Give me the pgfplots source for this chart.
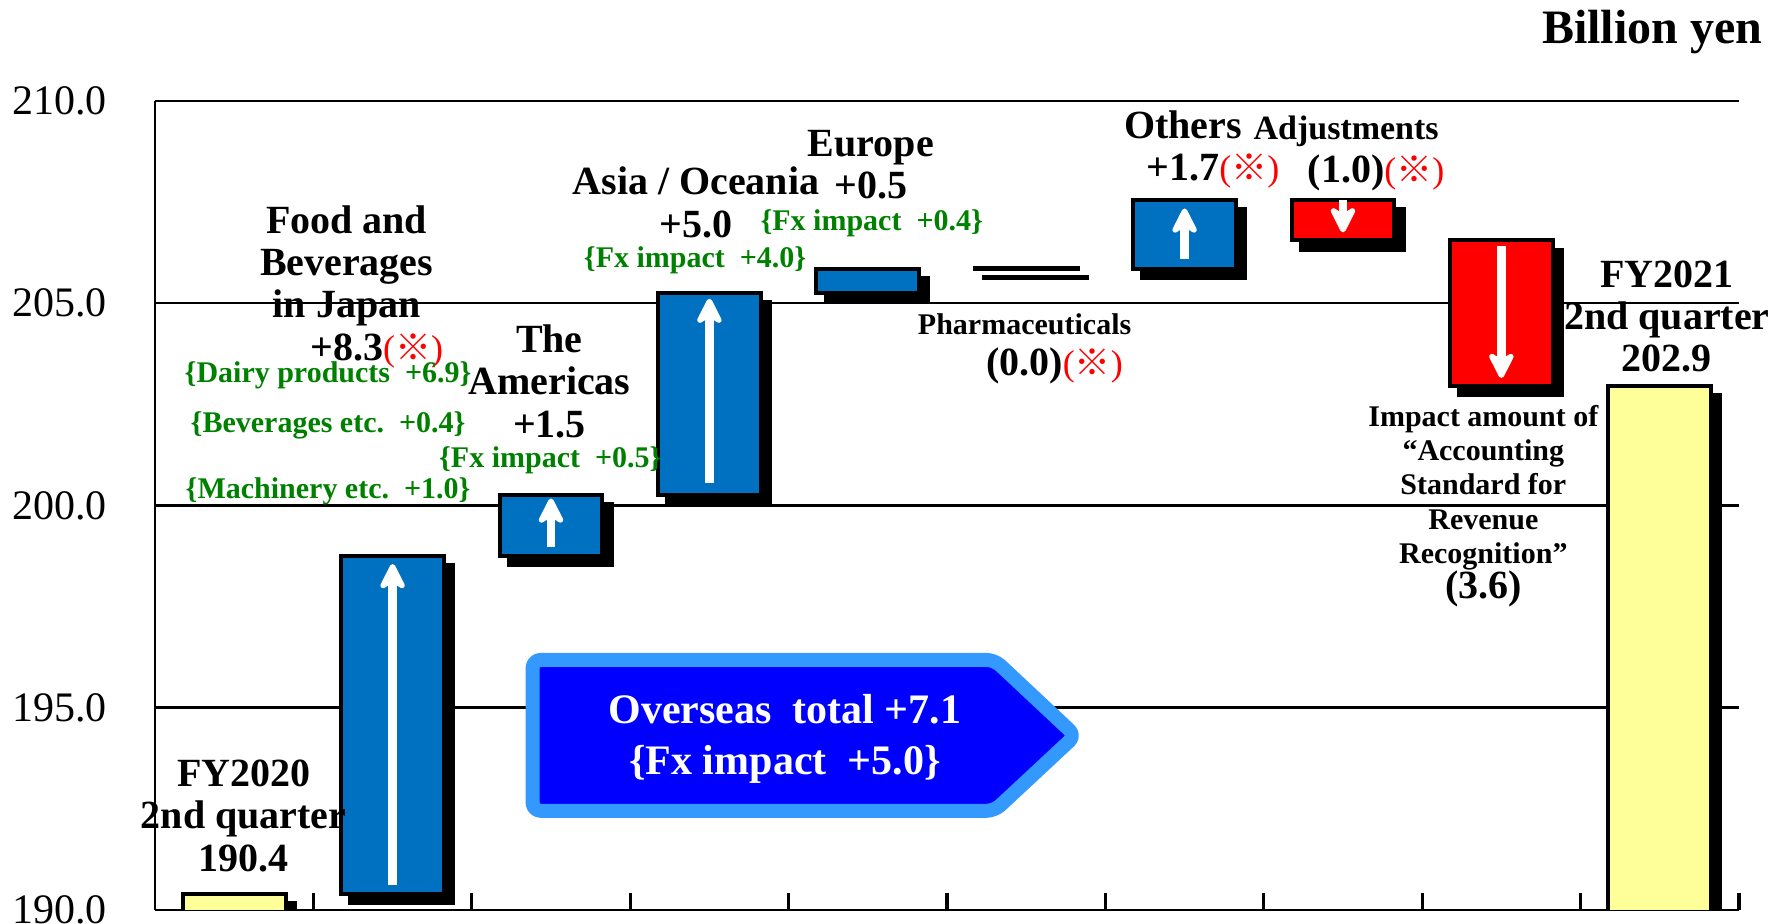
\documentclass[border=0pt]{standalone}
\usepackage{fontspec}
\setmainfont{Liberation Serif}
\newfontfamily\cjk{Noto Sans CJK JP}
\usepackage{pgfplots}
\usepackage{pgfplotstable}
\pgfplotsset{compat=1.18}
\usetikzlibrary{shadows,arrows.meta}

\definecolor{barblue}{HTML}{0070C0}
\definecolor{barred}{HTML}{FF0000}
\definecolor{baryellow}{HTML}{FFFF99}
\definecolor{fxgreen}{HTML}{008000}
\definecolor{ovfill}{HTML}{0000FF}
\definecolor{ovedge}{HTML}{3399FF}

% waterfall: invisible base + visible delta per colour
\pgfplotstableread{
x base yellow blue red
0 0 190.4 0 0
1 190.4 0 8.35 0
2 198.75 0 1.5 0
3 200.25 0 5.0 0
4 205.25 0 0.6 0
5 205.85 0 0.02 0
6 205.85 0 1.7 0
7 206.55 0 0 1.0
8 202.95 0 0 3.6
9 0 202.95 0 0
}\bars

% white arrows inside the bars
\pgfplotstableread{
x y0 u dv
1 190.61 0 7.94
2 198.97 0 1.20
3 200.56 0 4.55
6 206.08 0 1.26
7 207.56 0 -0.81
8 206.42 0 -3.27
}\arrowsdata

\newcommand\kome{\textcolor{red}{\mdseries\fontsize{9}{10}\selectfont({\cjk ※})}}

\begin{document}
\begin{tikzpicture}[
  lab/.style={font=\bfseries\fontsize{10}{10.6}\selectfont, align=center, inner sep=0pt},
  grn/.style={font=\bfseries\fontsize{7.5}{9}\selectfont, text=fxgreen, inner sep=0pt},
  sml/.style={font=\bfseries\fontsize{7.5}{8.6}\selectfont, align=center, inner sep=0pt},
]
\pgfplotsset{
  wbar/.style={ybar stacked, bar width=0.65, draw=black, line width=1pt,
    drop shadow={shadow xshift=2.3pt, shadow yshift=-2.3pt, opacity=1, fill=black}},
}
\begin{axis}[
  scale only axis, width=396pt, height=202.25pt,
  at={(0,0)}, anchor=south west,
  xmin=-0.5, xmax=9.5, ymin=190, ymax=210,
  axis x line*=bottom, axis y line*=left,
  axis line style={line width=0.6pt, black},
  xtick={0.5,1.5,...,9.5}, xticklabels={},
  xticklabel style={text opacity=0},
  xtick style={line width=0.8pt, black},
  tick align=inside, major tick length=4.25pt,
  ytick={190,195,...,210},
  ytick style={draw=none},
  ymajorgrids, grid style={line width=0.6pt, black},
  yticklabel={\pgfmathprintnumber[fixed,fixed zerofill,precision=1,assume math mode=true]{\tick}},
  yticklabel style={font=\fontsize{10.5}{12}\selectfont, xshift=-8.5pt},
  clip mode=individual,
  stacked ignores zero,
]
\addplot[ybar stacked, bar width=0.65, draw=none, fill=none] table[x=x,y=base] {\bars};
\addplot[wbar, fill=baryellow] table[x=x,y=yellow] {\bars};
\addplot[wbar, fill=barblue] table[x=x,y=blue] {\bars};
\addplot[wbar, fill=barred] table[x=x,y=red] {\bars};

\addplot[white, line width=2.2pt, quiver={u=\thisrow{u}, v=\thisrow{dv}},
  -{Stealth[length=8pt, width=8pt, inset=2.5pt, round]}]
  table[x=x, y=y0] {\arrowsdata};

% overseas total arrow
\draw[ovedge, fill=ovfill, line width=3.5pt, rounded corners=2pt, line join=round]
  (axis cs:1.884,196.18) -- (axis cs:4.80,196.18) -- (axis cs:5.31,194.31)
  -- (axis cs:4.80,192.45) -- (axis cs:1.884,192.45) -- cycle;
\node[white, font=\bfseries\fontsize{10.5}{12.7}\selectfont, align=center, inner sep=0pt]
  at (axis cs:3.477,194.22) {Overseas\ \ total +7.1\\\{Fx impact\ \ +5.0\}};

\node[lab] at (axis cs:0.06,192.33) {FY2020\\2nd quarter\\190.4};
\node[lab] at (axis cs:0.71,205.41) {Food and\\Beverages\\in Japan\\+8.3\rlap{\kome}};
\node[grn] at (axis cs:0.593,203.21) {\{Dairy products\ \ +6.9\}};
\node[grn] at (axis cs:0.593,201.98) {\{Beverages etc.\ \ +0.4\}};
\node[grn] at (axis cs:0.593,200.34) {\{Machinery etc.\ \ +1.0\}};
\node[lab] at (axis cs:1.99,203.07) {The\\Americas\\+1.5};
\node[grn] at (axis cs:1.996,201.12) {\{Fx impact\ \ +0.5\}};
\node[lab] at (axis cs:2.915,207.49) {Asia / Oceania\\+5.0};
\node[grn] at (axis cs:2.91,206.05) {\{Fx impact\ \ +4.0\}};
\node[lab] at (axis cs:4.02,208.43) {Europe\\+0.5};
\node[grn] at (axis cs:4.025,206.98) {\{Fx impact\ \ +0.4\}};
\node[sml] at (axis cs:4.99,204.47) {Pharmaceuticals};
\node[lab] at (axis cs:4.99,203.46) {(0.0)\rlap{\kome}};
\node[lab] at (axis cs:5.99,208.80) {Others\\+1.7\rlap{\kome}};
\node[lab] at (axis cs:7.02,208.70) {{\fontsize{8.5}{10.6}\selectfont Adjustments}\\(1.0)\rlap{\kome}};
\node[sml] at (axis cs:7.886,199.99) {Impact amount of\\“Accounting\\Standard for\\Revenue\\Recognition”\\{\fontsize{10}{10}\selectfont (3.6)}};
\node[lab] at (axis cs:9.045,204.67) {FY2021\\2nd quarter\\202.9};
\end{axis}
\node[anchor=base east, font=\bfseries\fontsize{12}{14}\selectfont, inner sep=0pt] at (402pt,216.5pt) {Billion yen};
\pgfresetboundingbox
\useasboundingbox (-38.75pt,-3.25pt) rectangle (403.5pt,227.5pt);
\end{tikzpicture}
\end{document}
